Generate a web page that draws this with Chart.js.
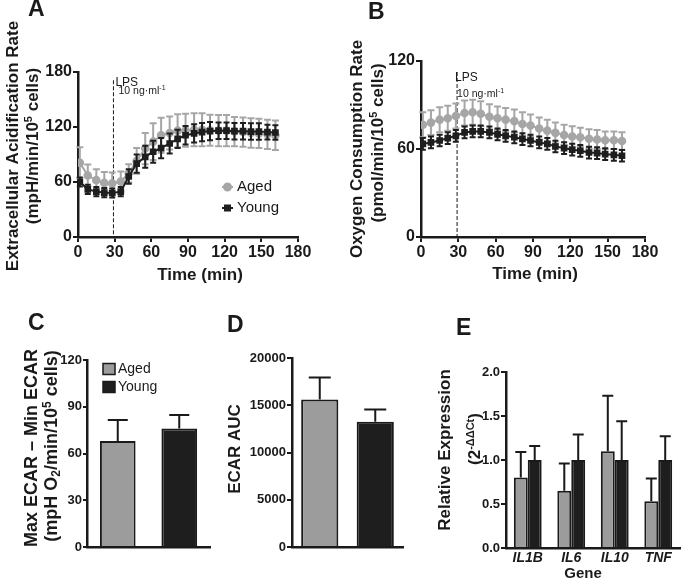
<!DOCTYPE html>
<html>
<head>
<meta charset="utf-8">
<script src="https://cdn.jsdelivr.net/npm/chart.js@4.4.1/dist/chart.umd.min.js"></script>
<style>
  body { margin: 0; background: #fff; width: 685px; height: 587px; position: relative; overflow: hidden; }
  canvas { position: absolute; }
</style>
</head>
<body>
<canvas id="ecarTrace" width="340" height="300" style="left:0;top:0"></canvas>
<canvas id="ocrTrace" width="345" height="300" style="left:340px;top:0"></canvas>
<canvas id="ecarDelta" width="222" height="287" style="left:0;top:300px"></canvas>
<canvas id="ecarAuc" width="198" height="287" style="left:222px;top:300px"></canvas>
<canvas id="geneExpr" width="265" height="287" style="left:420px;top:300px"></canvas>
<script>
// data
const timePoints = [1.5, 8, 15, 21.5, 28, 35, 41.5, 48, 55, 61.5, 68, 75, 81.5,
                    88, 95, 101.5, 108, 115, 121.5, 128, 135, 141.5, 148, 155, 161.5];

const ecarAged    = [81, 67, 62, 59, 58.5, 60.5, 69.5, 83, 96.5, 104, 111, 113.5, 116,
                     116.5, 117, 117, 116.5, 116, 116, 115, 114.5, 113.5, 113, 112, 111];
const ecarAgedErr = [17, 12, 12, 12, 12, 11, 10, 14, 17, 20, 19, 18, 18,
                     18, 18, 18, 17, 17, 17, 16, 16, 16, 16, 16, 16];
const ecarYoung    = [60, 52, 49.5, 48.5, 48, 49.5, 66, 80, 87.5, 93, 97, 102, 107,
                      111, 113, 114.5, 115.5, 116, 116, 115.5, 115.5, 115, 115, 114.5, 114];
const ecarYoungErr = [5, 5, 5, 5, 5, 5, 8, 10, 12, 12, 11, 11, 10,
                      10, 10, 10, 10, 9, 9, 9, 9, 9, 9, 8, 8];

const ocrAged    = [76.5, 78, 80, 81, 82.5, 84.5, 85, 84, 82, 81, 80, 79, 77,
                    76, 74, 72.5, 71, 69.5, 68.5, 68, 67, 66.5, 66, 66, 65.5];
const ocrAgedErr = [8.5, 8.5, 8.5, 8.5, 8.5, 8.5, 8.5, 8.5, 8.5, 8, 8, 8, 8,
                    7.5, 7.5, 7.5, 7, 7, 7, 6.5, 6.5, 6.5, 6, 6, 6];
const ocrYoung    = [63.5, 64.5, 65.8, 67.4, 69, 71.3, 72, 72, 71.3, 70, 69, 68, 66.8,
                     65.8, 64.5, 63.5, 61.7, 60.6, 59.5, 58.8, 57.6, 57.2, 56.5, 56, 55.4];
const ocrYoungErr = [4, 4, 4, 4, 4, 4, 4, 4, 4, 4, 4, 4, 4,
                     4, 4, 4, 4, 4, 4, 4, 4, 4, 4, 4, 4];

const groups = ['Aged', 'Young'];
const deltaEcar = [68, 76];
const deltaEcarErr = [13.5, 8.7];
const aucEcar = [15600, 13250];
const aucEcarErr = [2330, 1310];

const genes = ['IL1B', 'IL6', 'IL10', 'TNF'];
const exprAged = [0.80, 0.65, 1.10, 0.53];
const exprAgedErr = [0.29, 0.31, 0.63, 0.26];
const exprYoung = [1.0, 1.0, 1.0, 1.0];
const exprYoungErr = [0.16, 0.29, 0.44, 0.27];

const lpsTime = 29;

// styling
const FONT = '"Liberation Sans", Arial, Helvetica, sans-serif';
const INK = '#1a1a1a';
const GREY_LINE = '#a6a6a6';
const GREY_BAR = '#9c9c9c';
const BLACK = '#1e1e1e';

Chart.defaults.font.family = FONT;
Chart.defaults.color = INK;
Chart.defaults.animation = false;

// rotated / super-/subscript text
function drawRich(ctx, it) {
  const size = it.size || 16;
  const weight = it.weight || 'bold';
  const style = it.style || 'normal';
  const segs = it.segs;
  const fonts = segs.map(s => `${style} ${weight} ${s[1] ? Math.round(size * 0.65) : size}px ${FONT}`);
  const widths = segs.map((s, i) => { ctx.font = fonts[i]; return ctx.measureText(s[0]).width; });
  const total = widths.reduce((a, b) => a + b, 0);
  ctx.save();
  ctx.translate(it.x, it.y);
  if (it.rot) ctx.rotate(it.rot * Math.PI / 180);
  ctx.fillStyle = INK;
  ctx.textAlign = 'left';
  ctx.textBaseline = 'middle';
  let x = it.align === 'left' ? 0 : -total / 2;
  segs.forEach((s, i) => {
    ctx.font = fonts[i];
    const dy = s[1] === 'sup' ? -size * 0.24 : s[1] === 'sub' ? size * 0.25 : 0;
    ctx.fillText(s[0], x, dy);
    x += widths[i];
  });
  ctx.restore();
}

const textPlugin = {
  id: 'texts',
  afterDraw(chart, args, opts) {
    (opts.items || []).forEach(it => drawRich(chart.ctx, it));
  }
};

// error bars: line charts both ways (under the marks), bar charts upward only
function drawErrors(chart, args) {
  const ds = chart.data.datasets[args.index];
  if (!ds.errors) return;
  const isLine = chart.config.type === 'line';
  const yScale = chart.scales.y;
  const ctx = chart.ctx;
  ctx.save();
  ctx.strokeStyle = ds.errorColor;
  ctx.lineWidth = ds.errorWidth || 2;
  args.meta.data.forEach((el, i) => {
    const v = isLine ? ds.data[i].y : ds.data[i];
    const e = ds.errors[i];
    const top = yScale.getPixelForValue(v + e);
    const bot = isLine ? yScale.getPixelForValue(v - e) : el.y;
    const half = ds.capWidth / 2;
    ctx.beginPath();
    ctx.moveTo(el.x, top); ctx.lineTo(el.x, bot);
    ctx.moveTo(el.x - half, top); ctx.lineTo(el.x + half, top);
    if (isLine) { ctx.moveTo(el.x - half, bot); ctx.lineTo(el.x + half, bot); }
    ctx.stroke();
  });
  ctx.restore();
}

const errorBarPlugin = {
  id: 'errorBars',
  beforeDatasetDraw(chart, args) { if (chart.config.type === 'line') drawErrors(chart, args); },
  afterDatasetDraw(chart, args) { if (chart.config.type === 'bar') drawErrors(chart, args); }
};

// LPS injection marker
const lpsPlugin = {
  id: 'lps',
  beforeDatasetsDraw(chart, args, opts) {
    if (opts.at === undefined) return;
    const ctx = chart.ctx;
    const x = chart.scales.x.getPixelForValue(opts.at);
    const top = chart.scales.y.getPixelForValue(opts.top);
    ctx.save();
    ctx.strokeStyle = INK;
    ctx.lineWidth = 1;
    ctx.setLineDash([4, 2]);
    ctx.beginPath();
    ctx.moveTo(x, top); ctx.lineTo(x, chart.chartArea.bottom);
    ctx.stroke();
    ctx.restore();
    drawRich(ctx, { x: x + opts.lpsDx, y: opts.lpsY, size: 12, weight: 'normal', align: 'left', segs: [['LPS']] });
    drawRich(ctx, { x: x + opts.doseDx, y: opts.doseY, size: 10.5, weight: 'normal', align: 'left',
                    segs: [['10 ng·ml'], ['-1', 'sup']] });
  }
};

// legend drawn inside the plot
const legendPlugin = {
  id: 'panelLegend',
  afterDraw(chart, args, opts) {
    if (!opts.items) return;
    const ctx = chart.ctx;
    opts.items.forEach((it, i) => {
      const y = opts.y + i * opts.gap;
      ctx.save();
      if (opts.kind === 'line') {
        ctx.strokeStyle = it.color;
        ctx.fillStyle = it.color;
        ctx.lineWidth = 2;
        ctx.beginPath(); ctx.moveTo(opts.x - 5.5, y); ctx.lineTo(opts.x + 5.5, y); ctx.stroke();
        Chart.helpers.drawPoint(ctx, { pointStyle: it.style, radius: 3.5, borderWidth: 1 }, opts.x, y);
      } else {
        ctx.fillStyle = it.color;
        ctx.strokeStyle = INK;
        ctx.lineWidth = 1.5;
        ctx.fillRect(opts.x, y - 5.5, 12, 11);
        ctx.strokeRect(opts.x, y - 5.5, 12, 11);
      }
      ctx.restore();
      drawRich(ctx, { x: opts.textX, y: y, size: opts.size, weight: 'normal', align: 'left', segs: [[it.text]] });
    });
  }
};

Chart.register(textPlugin, errorBarPlugin, lpsPlugin, legendPlugin);

// axis helpers; area = wanted chart area inside the canvas
function valueAxis(area, min, max, step, size, extra) {
  return Object.assign({
    min: min, max: max,
    afterFit: s => { s.width = area.l; },
    ticks: { stepSize: step, padding: 1, color: INK, font: { size: size, weight: 'bold' }, callback: v => String(v) },
    grid: { drawOnChartArea: false, drawTicks: true, tickLength: 5, color: INK, lineWidth: 2 },
    border: { color: INK, width: 2.5 }
  }, extra || {});
}
function layoutFor(canvasId, area) {
  const c = document.getElementById(canvasId);
  return { padding: { left: 0, bottom: 0, top: area.t, right: c.width - area.r } };
}
const xHeight = (canvasId, area) => s => { s.height = document.getElementById(canvasId).height - area.b; };

function traceChart(canvasId, area, yMax, aged, agedErr, young, youngErr, lps, items) {
  new Chart(document.getElementById(canvasId), {
    type: 'line',
    data: {
      datasets: [
        { label: groups[0], data: timePoints.map((t, i) => ({ x: t, y: aged[i] })), errors: agedErr,
          borderColor: GREY_LINE, backgroundColor: GREY_LINE, errorColor: GREY_LINE, capWidth: 7,
          borderWidth: 2, pointStyle: 'circle', pointRadius: 3.3, order: 2 },
        { label: groups[1], data: timePoints.map((t, i) => ({ x: t, y: young[i] })), errors: youngErr,
          borderColor: BLACK, backgroundColor: BLACK, errorColor: BLACK, capWidth: 6,
          borderWidth: 2, pointStyle: 'rect', pointRadius: 3.3, order: 1 }
      ]
    },
    options: {
      responsive: false,
      layout: layoutFor(canvasId, area),
      plugins: { legend: { display: false }, tooltip: { enabled: false }, lps: lps, texts: { items: items },
                 panelLegend: canvasId === 'ecarTrace' ? {
                   kind: 'line', x: 227.5, textX: 237, y: 187, gap: 21, size: 15,
                   items: [{ text: groups[0], color: GREY_LINE, style: 'circle' },
                           { text: groups[1], color: BLACK, style: 'rect' }] } : {} },
      scales: {
        x: { type: 'linear', min: 0, max: 180,
             afterFit: xHeight(canvasId, area),
             ticks: { stepSize: 30, padding: 1, color: INK, font: { size: 16, weight: 'bold' } },
             grid: { drawOnChartArea: false, drawTicks: true, tickLength: 5, color: INK, lineWidth: 2 },
             border: { color: INK, width: 2.5 } },
        y: valueAxis(area, 0, yMax, 60, 16)
      }
    }
  });
}

// A) ECAR trace
const areaA = { l: 78, r: 298, t: 72, b: 237 };
traceChart('ecarTrace', areaA, 180, ecarAged, ecarAgedErr, ecarYoung, ecarYoungErr,
  { at: lpsTime, top: 171, lpsDx: 2, lpsY: 83, doseDx: 5, doseY: 91 },
  [
    { x: 28, y: 10, size: 23, align: 'left', segs: [['A']] },
    { x: 13, y: 146, rot: -90, size: 17, segs: [['Extracellular Acidification Rate']] },
    { x: 33, y: 146, rot: -90, size: 17, segs: [['(mpH/min/10'], ['5', 'sup'], [' cells)']] },
    { x: 200, y: 275, size: 17, segs: [['Time (min)']] }
  ]);

// B) OCR trace
const areaB = { l: 81, r: 305, t: 61, b: 237 };
traceChart('ocrTrace', areaB, 120, ocrAged, ocrAgedErr, ocrYoung, ocrYoungErr,
  { at: lpsTime, top: 112.5, lpsDx: -2, lpsY: 78, doseDx: 0, doseY: 94 },
  [
    { x: 28, y: 12.5, size: 23, align: 'left', segs: [['B']] },
    { x: 17, y: 149, rot: -90, size: 17, segs: [['Oxygen Consumption Rate']] },
    { x: 38, y: 143, rot: -90, size: 17, segs: [['(pmol/min/10'], ['5', 'sup'], [' cells)']] },
    { x: 195, y: 274, size: 17, segs: [['Time (min)']] }
  ]);

// bar panels
function barChart(canvasId, area, labels, datasets, yMax, step, pct, items, extra) {
  new Chart(document.getElementById(canvasId), {
    type: 'bar',
    data: { labels: labels, datasets: datasets },
    options: {
      responsive: false,
      layout: layoutFor(canvasId, area),
      datasets: { bar: { borderColor: INK, borderWidth: 2, borderSkipped: 'bottom',
                         barPercentage: pct.bar, categoryPercentage: pct.cat } },
      plugins: Object.assign({ legend: { display: false }, tooltip: { enabled: false }, texts: { items: items } },
                             extra.plugins || {}),
      scales: {
        x: Object.assign({ afterFit: xHeight(canvasId, area),
             grid: { display: false, drawTicks: false }, ticks: { display: false },
             border: { color: INK, width: 2.5 } }, extra.x || {}),
        y: valueAxis(area, 0, yMax, step, 13, extra.y)
      }
    }
  });
}

// C) Max - Min ECAR
const areaC = { l: 87, r: 210, t: 60, b: 247 };
barChart('ecarDelta', areaC, groups,
  [{ data: deltaEcar, errors: deltaEcarErr, capWidth: 20, errorColor: INK, backgroundColor: [GREY_BAR, BLACK] }],
  120, 30, { bar: 0.58, cat: 1 },
  [
    { x: 28, y: 24, size: 23, align: 'left', segs: [['C']] },
    { x: 32, y: 148, rot: -90, size: 18, segs: [['Max ECAR – Min ECAR']] },
    { x: 52, y: 146, rot: -90, size: 18, segs: [['(mpH O'], ['2', 'sub'], ['/min/10'], ['5', 'sup'], [' cells)']] }
  ],
  { plugins: { panelLegend: { kind: 'box', x: 103, textX: 118, y: 69, gap: 18, size: 14,
               items: [{ text: groups[0], color: GREY_BAR }, { text: groups[1], color: BLACK }] } },
    y: { ticks: { stepSize: 30, padding: 1, color: INK, font: { size: 13, weight: 'bold' } },
         grid: { drawOnChartArea: false, drawTicks: true, tickLength: 4, color: INK, lineWidth: 2 } } });

// D) ECAR AUC
const areaD = { l: 70, r: 181, t: 58, b: 247 };
barChart('ecarAuc', areaD, groups,
  [{ data: aucEcar, errors: aucEcarErr, capWidth: 22, errorColor: INK, backgroundColor: [GREY_BAR, BLACK] }],
  20000, 5000, { bar: 0.67, cat: 1 },
  [
    { x: 5, y: 25.5, size: 23, align: 'left', segs: [['D']] },
    { x: 13, y: 149, rot: -90, size: 17, segs: [['ECAR AUC']] }
  ], {});

// E) gene expression
const areaE = { l: 86, r: 260, t: 72, b: 248 };
barChart('geneExpr', areaE, genes,
  [
    { label: groups[0], data: exprAged, errors: exprAgedErr, capWidth: 11, errorColor: INK, backgroundColor: GREY_BAR },
    { label: groups[1], data: exprYoung, errors: exprYoungErr, capWidth: 11, errorColor: INK, backgroundColor: BLACK }
  ],
  2.0, 0.5, { bar: 1, cat: 0.64 },
  [
    { x: 36, y: 28.5, size: 23, align: 'left', segs: [['E']] },
    { x: 25, y: 150, rot: -90, size: 17, segs: [['Relative Expression']] },
    { x: 55, y: 139, rot: -90, size: 17, segs: [['(2'], ['-ΔΔCt', 'sup'], [')']] },
    { x: 163, y: 274, size: 15, segs: [['Gene']] }
  ],
  { x: { ticks: { display: true, padding: 2, color: INK, font: { size: 14, weight: 'bold', style: 'italic' } } },
    y: { ticks: { stepSize: 0.5, padding: 1, color: INK, font: { size: 13, weight: 'bold' },
                  callback: v => v.toFixed(1) } } });
</script>
</body>
</html>
